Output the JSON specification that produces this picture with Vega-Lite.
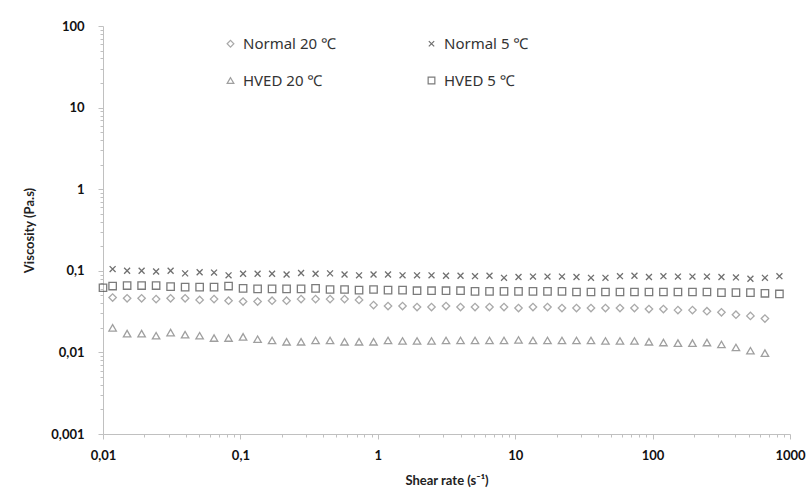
{
  "$schema": "https://vega.github.io/schema/vega-lite/v6.json",
  "width": 687,
  "height": 408,
  "autosize": "none",
  "padding": {"left": 103, "top": 26, "right": 20, "bottom": 59},
  "background": "white",
  "config": {"view": {"stroke": null}, "font": "Lato"},
  "datasets": {
    "pts": [
      {"series": "Normal 5 ℃", "shear": 0.01175, "visc": 0.105},
      {"series": "Normal 5 ℃", "shear": 0.01498, "visc": 0.1},
      {"series": "Normal 5 ℃", "shear": 0.0191, "visc": 0.1},
      {"series": "Normal 5 ℃", "shear": 0.02435, "visc": 0.098},
      {"series": "Normal 5 ℃", "shear": 0.03105, "visc": 0.1},
      {"series": "Normal 5 ℃", "shear": 0.0396, "visc": 0.093},
      {"series": "Normal 5 ℃", "shear": 0.0505, "visc": 0.096},
      {"series": "Normal 5 ℃", "shear": 0.0643, "visc": 0.095},
      {"series": "Normal 5 ℃", "shear": 0.082, "visc": 0.088},
      {"series": "Normal 5 ℃", "shear": 0.1046, "visc": 0.092},
      {"series": "Normal 5 ℃", "shear": 0.1334, "visc": 0.092},
      {"series": "Normal 5 ℃", "shear": 0.17, "visc": 0.092},
      {"series": "Normal 5 ℃", "shear": 0.2168, "visc": 0.09},
      {"series": "Normal 5 ℃", "shear": 0.2764, "visc": 0.094},
      {"series": "Normal 5 ℃", "shear": 0.3524, "visc": 0.092},
      {"series": "Normal 5 ℃", "shear": 0.4493, "visc": 0.093},
      {"series": "Normal 5 ℃", "shear": 0.5728, "visc": 0.09},
      {"series": "Normal 5 ℃", "shear": 0.7303, "visc": 0.088},
      {"series": "Normal 5 ℃", "shear": 0.9311, "visc": 0.09},
      {"series": "Normal 5 ℃", "shear": 1.187, "visc": 0.09},
      {"series": "Normal 5 ℃", "shear": 1.514, "visc": 0.088},
      {"series": "Normal 5 ℃", "shear": 1.93, "visc": 0.088},
      {"series": "Normal 5 ℃", "shear": 2.46, "visc": 0.088},
      {"series": "Normal 5 ℃", "shear": 3.137, "visc": 0.087},
      {"series": "Normal 5 ℃", "shear": 4.0, "visc": 0.087},
      {"series": "Normal 5 ℃", "shear": 5.1, "visc": 0.086},
      {"series": "Normal 5 ℃", "shear": 6.501, "visc": 0.087},
      {"series": "Normal 5 ℃", "shear": 8.289, "visc": 0.082},
      {"series": "Normal 5 ℃", "shear": 10.57, "visc": 0.084},
      {"series": "Normal 5 ℃", "shear": 13.47, "visc": 0.085},
      {"series": "Normal 5 ℃", "shear": 17.18, "visc": 0.085},
      {"series": "Normal 5 ℃", "shear": 21.9, "visc": 0.085},
      {"series": "Normal 5 ℃", "shear": 27.93, "visc": 0.084},
      {"series": "Normal 5 ℃", "shear": 35.61, "visc": 0.082},
      {"series": "Normal 5 ℃", "shear": 45.39, "visc": 0.082},
      {"series": "Normal 5 ℃", "shear": 57.88, "visc": 0.086},
      {"series": "Normal 5 ℃", "shear": 73.79, "visc": 0.087},
      {"series": "Normal 5 ℃", "shear": 94.08, "visc": 0.084},
      {"series": "Normal 5 ℃", "shear": 119.9, "visc": 0.086},
      {"series": "Normal 5 ℃", "shear": 152.9, "visc": 0.085},
      {"series": "Normal 5 ℃", "shear": 195, "visc": 0.085},
      {"series": "Normal 5 ℃", "shear": 248.6, "visc": 0.085},
      {"series": "Normal 5 ℃", "shear": 317, "visc": 0.084},
      {"series": "Normal 5 ℃", "shear": 404.2, "visc": 0.083},
      {"series": "Normal 5 ℃", "shear": 515.2, "visc": 0.08},
      {"series": "Normal 5 ℃", "shear": 657, "visc": 0.082},
      {"series": "Normal 5 ℃", "shear": 837.5, "visc": 0.086},

      {"series": "HVED 5 ℃", "shear": 0.01, "visc": 0.062},
      {"series": "HVED 5 ℃", "shear": 0.01175, "visc": 0.065},
      {"series": "HVED 5 ℃", "shear": 0.01498, "visc": 0.066},
      {"series": "HVED 5 ℃", "shear": 0.0191, "visc": 0.066},
      {"series": "HVED 5 ℃", "shear": 0.02435, "visc": 0.066},
      {"series": "HVED 5 ℃", "shear": 0.03105, "visc": 0.064},
      {"series": "HVED 5 ℃", "shear": 0.0396, "visc": 0.063},
      {"series": "HVED 5 ℃", "shear": 0.0505, "visc": 0.063},
      {"series": "HVED 5 ℃", "shear": 0.0643, "visc": 0.063},
      {"series": "HVED 5 ℃", "shear": 0.082, "visc": 0.065},
      {"series": "HVED 5 ℃", "shear": 0.1046, "visc": 0.061},
      {"series": "HVED 5 ℃", "shear": 0.1334, "visc": 0.06},
      {"series": "HVED 5 ℃", "shear": 0.17, "visc": 0.06},
      {"series": "HVED 5 ℃", "shear": 0.2168, "visc": 0.06},
      {"series": "HVED 5 ℃", "shear": 0.2764, "visc": 0.06},
      {"series": "HVED 5 ℃", "shear": 0.3524, "visc": 0.061},
      {"series": "HVED 5 ℃", "shear": 0.4493, "visc": 0.059},
      {"series": "HVED 5 ℃", "shear": 0.5728, "visc": 0.059},
      {"series": "HVED 5 ℃", "shear": 0.7303, "visc": 0.058},
      {"series": "HVED 5 ℃", "shear": 0.9311, "visc": 0.059},
      {"series": "HVED 5 ℃", "shear": 1.187, "visc": 0.058},
      {"series": "HVED 5 ℃", "shear": 1.514, "visc": 0.058},
      {"series": "HVED 5 ℃", "shear": 1.93, "visc": 0.057},
      {"series": "HVED 5 ℃", "shear": 2.46, "visc": 0.057},
      {"series": "HVED 5 ℃", "shear": 3.137, "visc": 0.057},
      {"series": "HVED 5 ℃", "shear": 4.0, "visc": 0.057},
      {"series": "HVED 5 ℃", "shear": 5.1, "visc": 0.056},
      {"series": "HVED 5 ℃", "shear": 6.501, "visc": 0.056},
      {"series": "HVED 5 ℃", "shear": 8.289, "visc": 0.056},
      {"series": "HVED 5 ℃", "shear": 10.57, "visc": 0.056},
      {"series": "HVED 5 ℃", "shear": 13.47, "visc": 0.056},
      {"series": "HVED 5 ℃", "shear": 17.18, "visc": 0.056},
      {"series": "HVED 5 ℃", "shear": 21.9, "visc": 0.056},
      {"series": "HVED 5 ℃", "shear": 27.93, "visc": 0.055},
      {"series": "HVED 5 ℃", "shear": 35.61, "visc": 0.055},
      {"series": "HVED 5 ℃", "shear": 45.39, "visc": 0.055},
      {"series": "HVED 5 ℃", "shear": 57.88, "visc": 0.055},
      {"series": "HVED 5 ℃", "shear": 73.79, "visc": 0.055},
      {"series": "HVED 5 ℃", "shear": 94.08, "visc": 0.055},
      {"series": "HVED 5 ℃", "shear": 119.9, "visc": 0.055},
      {"series": "HVED 5 ℃", "shear": 152.9, "visc": 0.055},
      {"series": "HVED 5 ℃", "shear": 195, "visc": 0.055},
      {"series": "HVED 5 ℃", "shear": 248.6, "visc": 0.055},
      {"series": "HVED 5 ℃", "shear": 317, "visc": 0.054},
      {"series": "HVED 5 ℃", "shear": 404.2, "visc": 0.054},
      {"series": "HVED 5 ℃", "shear": 515.2, "visc": 0.054},
      {"series": "HVED 5 ℃", "shear": 657, "visc": 0.053},
      {"series": "HVED 5 ℃", "shear": 837.5, "visc": 0.052},

      {"series": "Normal 20 ℃", "shear": 0.01175, "visc": 0.047},
      {"series": "Normal 20 ℃", "shear": 0.01498, "visc": 0.046},
      {"series": "Normal 20 ℃", "shear": 0.0191, "visc": 0.046},
      {"series": "Normal 20 ℃", "shear": 0.02435, "visc": 0.045},
      {"series": "Normal 20 ℃", "shear": 0.03105, "visc": 0.046},
      {"series": "Normal 20 ℃", "shear": 0.0396, "visc": 0.046},
      {"series": "Normal 20 ℃", "shear": 0.0505, "visc": 0.044},
      {"series": "Normal 20 ℃", "shear": 0.0643, "visc": 0.045},
      {"series": "Normal 20 ℃", "shear": 0.082, "visc": 0.043},
      {"series": "Normal 20 ℃", "shear": 0.1046, "visc": 0.042},
      {"series": "Normal 20 ℃", "shear": 0.1334, "visc": 0.042},
      {"series": "Normal 20 ℃", "shear": 0.17, "visc": 0.043},
      {"series": "Normal 20 ℃", "shear": 0.2168, "visc": 0.043},
      {"series": "Normal 20 ℃", "shear": 0.2764, "visc": 0.045},
      {"series": "Normal 20 ℃", "shear": 0.3524, "visc": 0.045},
      {"series": "Normal 20 ℃", "shear": 0.4493, "visc": 0.045},
      {"series": "Normal 20 ℃", "shear": 0.5728, "visc": 0.045},
      {"series": "Normal 20 ℃", "shear": 0.7303, "visc": 0.044},
      {"series": "Normal 20 ℃", "shear": 0.9311, "visc": 0.038},
      {"series": "Normal 20 ℃", "shear": 1.187, "visc": 0.037},
      {"series": "Normal 20 ℃", "shear": 1.514, "visc": 0.037},
      {"series": "Normal 20 ℃", "shear": 1.93, "visc": 0.036},
      {"series": "Normal 20 ℃", "shear": 2.46, "visc": 0.036},
      {"series": "Normal 20 ℃", "shear": 3.137, "visc": 0.037},
      {"series": "Normal 20 ℃", "shear": 4.0, "visc": 0.036},
      {"series": "Normal 20 ℃", "shear": 5.1, "visc": 0.036},
      {"series": "Normal 20 ℃", "shear": 6.501, "visc": 0.036},
      {"series": "Normal 20 ℃", "shear": 8.289, "visc": 0.036},
      {"series": "Normal 20 ℃", "shear": 10.57, "visc": 0.035},
      {"series": "Normal 20 ℃", "shear": 13.47, "visc": 0.036},
      {"series": "Normal 20 ℃", "shear": 17.18, "visc": 0.036},
      {"series": "Normal 20 ℃", "shear": 21.9, "visc": 0.035},
      {"series": "Normal 20 ℃", "shear": 27.93, "visc": 0.035},
      {"series": "Normal 20 ℃", "shear": 35.61, "visc": 0.035},
      {"series": "Normal 20 ℃", "shear": 45.39, "visc": 0.035},
      {"series": "Normal 20 ℃", "shear": 57.88, "visc": 0.035},
      {"series": "Normal 20 ℃", "shear": 73.79, "visc": 0.035},
      {"series": "Normal 20 ℃", "shear": 94.08, "visc": 0.034},
      {"series": "Normal 20 ℃", "shear": 119.9, "visc": 0.034},
      {"series": "Normal 20 ℃", "shear": 152.9, "visc": 0.033},
      {"series": "Normal 20 ℃", "shear": 195, "visc": 0.033},
      {"series": "Normal 20 ℃", "shear": 248.6, "visc": 0.032},
      {"series": "Normal 20 ℃", "shear": 317, "visc": 0.031},
      {"series": "Normal 20 ℃", "shear": 404.2, "visc": 0.029},
      {"series": "Normal 20 ℃", "shear": 515.2, "visc": 0.028},
      {"series": "Normal 20 ℃", "shear": 657, "visc": 0.026},

      {"series": "HVED 20 ℃", "shear": 0.01175, "visc": 0.02},
      {"series": "HVED 20 ℃", "shear": 0.01498, "visc": 0.017},
      {"series": "HVED 20 ℃", "shear": 0.0191, "visc": 0.017},
      {"series": "HVED 20 ℃", "shear": 0.02435, "visc": 0.016},
      {"series": "HVED 20 ℃", "shear": 0.03105, "visc": 0.0175},
      {"series": "HVED 20 ℃", "shear": 0.0396, "visc": 0.0165},
      {"series": "HVED 20 ℃", "shear": 0.0505, "visc": 0.016},
      {"series": "HVED 20 ℃", "shear": 0.0643, "visc": 0.015},
      {"series": "HVED 20 ℃", "shear": 0.082, "visc": 0.015},
      {"series": "HVED 20 ℃", "shear": 0.1046, "visc": 0.0155},
      {"series": "HVED 20 ℃", "shear": 0.1334, "visc": 0.0145},
      {"series": "HVED 20 ℃", "shear": 0.17, "visc": 0.014},
      {"series": "HVED 20 ℃", "shear": 0.2168, "visc": 0.0135},
      {"series": "HVED 20 ℃", "shear": 0.2764, "visc": 0.0135},
      {"series": "HVED 20 ℃", "shear": 0.3524, "visc": 0.014},
      {"series": "HVED 20 ℃", "shear": 0.4493, "visc": 0.014},
      {"series": "HVED 20 ℃", "shear": 0.5728, "visc": 0.0135},
      {"series": "HVED 20 ℃", "shear": 0.7303, "visc": 0.0135},
      {"series": "HVED 20 ℃", "shear": 0.9311, "visc": 0.0135},
      {"series": "HVED 20 ℃", "shear": 1.187, "visc": 0.014},
      {"series": "HVED 20 ℃", "shear": 1.514, "visc": 0.0138},
      {"series": "HVED 20 ℃", "shear": 1.93, "visc": 0.0138},
      {"series": "HVED 20 ℃", "shear": 2.46, "visc": 0.0138},
      {"series": "HVED 20 ℃", "shear": 3.137, "visc": 0.014},
      {"series": "HVED 20 ℃", "shear": 4.0, "visc": 0.014},
      {"series": "HVED 20 ℃", "shear": 5.1, "visc": 0.014},
      {"series": "HVED 20 ℃", "shear": 6.501, "visc": 0.014},
      {"series": "HVED 20 ℃", "shear": 8.289, "visc": 0.014},
      {"series": "HVED 20 ℃", "shear": 10.57, "visc": 0.0142},
      {"series": "HVED 20 ℃", "shear": 13.47, "visc": 0.014},
      {"series": "HVED 20 ℃", "shear": 17.18, "visc": 0.014},
      {"series": "HVED 20 ℃", "shear": 21.9, "visc": 0.014},
      {"series": "HVED 20 ℃", "shear": 27.93, "visc": 0.014},
      {"series": "HVED 20 ℃", "shear": 35.61, "visc": 0.014},
      {"series": "HVED 20 ℃", "shear": 45.39, "visc": 0.0138},
      {"series": "HVED 20 ℃", "shear": 57.88, "visc": 0.0138},
      {"series": "HVED 20 ℃", "shear": 73.79, "visc": 0.0138},
      {"series": "HVED 20 ℃", "shear": 94.08, "visc": 0.0135},
      {"series": "HVED 20 ℃", "shear": 119.9, "visc": 0.0132},
      {"series": "HVED 20 ℃", "shear": 152.9, "visc": 0.013},
      {"series": "HVED 20 ℃", "shear": 195, "visc": 0.013},
      {"series": "HVED 20 ℃", "shear": 248.6, "visc": 0.0132},
      {"series": "HVED 20 ℃", "shear": 317, "visc": 0.0125},
      {"series": "HVED 20 ℃", "shear": 404.2, "visc": 0.0115},
      {"series": "HVED 20 ℃", "shear": 515.2, "visc": 0.0105},
      {"series": "HVED 20 ℃", "shear": 657, "visc": 0.0098}
    ]
  },
  "data": {"name": "pts"},
  "mark": {"type": "point", "filled": false, "strokeWidth": 1.3, "size": 55, "clip": false},
  "encoding": {
    "x": {
      "field": "shear",
      "type": "quantitative",
      "scale": {"type": "log", "domain": [0.01, 1000], "nice": false},
      "axis": {
        "title": "Shear rate (s⁻¹)",
        "titleFont": "Lato",
        "titleFontSize": 13,
        "titleFontWeight": "bold",
        "titleColor": "#222",
        "titlePadding": 12,
        "values": [0.01, 0.02, 0.03, 0.04, 0.05, 0.06, 0.07, 0.08, 0.09, 0.1, 0.2, 0.3, 0.4, 0.5, 0.6, 0.7, 0.8, 0.9, 1, 2, 3, 4, 5, 6, 7, 8, 9, 10, 20, 30, 40, 50, 60, 70, 80, 90, 100, 200, 300, 400, 500, 600, 700, 800, 900, 1000],
        "labelExpr": "indexof([0.01,0.1,1,10,100,1000], datum.value) >= 0 ? replace(toString(datum.value), '.', ',') : ''",
        "labelOverlap": false,
        "labelFlush": false,
        "labelFont": "Lato",
        "labelFontSize": 13,
        "labelFontWeight": "bold",
        "labelColor": "#111",
        "labelPadding": 10,
        "domainColor": "#c0c0c0",
        "tickColor": "#c0c0c0",
        "tickSize": {"condition": {"test": "indexof([0.01,0.1,1,10,100,1000], datum.value) >= 0", "value": 5}, "value": 3},
        "grid": false
      }
    },
    "y": {
      "field": "visc",
      "type": "quantitative",
      "scale": {"type": "log", "domain": [0.001, 100], "nice": false},
      "axis": {
        "title": "Viscosity (Pa.s)",
        "titleFont": "Lato",
        "titleFontSize": 13,
        "titleFontWeight": "bold",
        "titleColor": "#222",
        "titlePadding": 14,
        "values": [0.001, 0.002, 0.003, 0.004, 0.005, 0.006, 0.007, 0.008, 0.009, 0.01, 0.02, 0.03, 0.04, 0.05, 0.06, 0.07, 0.08, 0.09, 0.1, 0.2, 0.3, 0.4, 0.5, 0.6, 0.7, 0.8, 0.9, 1, 2, 3, 4, 5, 6, 7, 8, 9, 10, 20, 30, 40, 50, 60, 70, 80, 90, 100],
        "labelExpr": "indexof([0.001,0.01,0.1,1,10,100], datum.value) >= 0 ? replace(toString(datum.value), '.', ',') : ''",
        "labelOverlap": false,
        "labelFlush": false,
        "labelFont": "Lato",
        "labelFontSize": 13,
        "labelFontWeight": "bold",
        "labelColor": "#111",
        "labelPadding": 14,
        "domainColor": "#c0c0c0",
        "tickColor": "#c0c0c0",
        "tickSize": {"condition": {"test": "indexof([0.001,0.01,0.1,1,10,100], datum.value) >= 0", "value": 5}, "value": 3},
        "grid": false
      }
    },
    "shape": {
      "field": "series",
      "type": "nominal",
      "scale": {
        "domain": ["Normal 20 ℃", "Normal 5 ℃", "HVED 20 ℃", "HVED 5 ℃"],
        "range": ["diamond", "M-0.8,-0.8L0.8,0.8M-0.8,0.8L0.8,-0.8", "triangle-up", "square"]
      },
      "legend": {
        "title": null,
        "orient": "none",
        "legendX": 120,
        "legendY": 10,
        "direction": "horizontal",
        "columns": 2,
        "columnPadding": 88,
        "rowPadding": 21,
        "labelFont": "Noto Sans",
        "labelFontSize": 15,
        "labelColor": "#333",
        "labelOffset": 5,
        "symbolSize": 45,
        "symbolStrokeWidth": 1.2
      }
    },
    "color": {
      "field": "series",
      "type": "nominal",
      "scale": {
        "domain": ["Normal 20 ℃", "Normal 5 ℃", "HVED 20 ℃", "HVED 5 ℃"],
        "range": ["#858585", "#333333", "#777777", "#444444"]
      },
      "legend": {
        "title": null,
        "orient": "none",
        "legendX": 120,
        "legendY": 10,
        "direction": "horizontal",
        "columns": 2,
        "columnPadding": 88,
        "rowPadding": 21,
        "labelFont": "Noto Sans",
        "labelFontSize": 15,
        "labelColor": "#333",
        "labelOffset": 5,
        "symbolSize": 45,
        "symbolStrokeWidth": 1.2
      }
    }
  }
}
